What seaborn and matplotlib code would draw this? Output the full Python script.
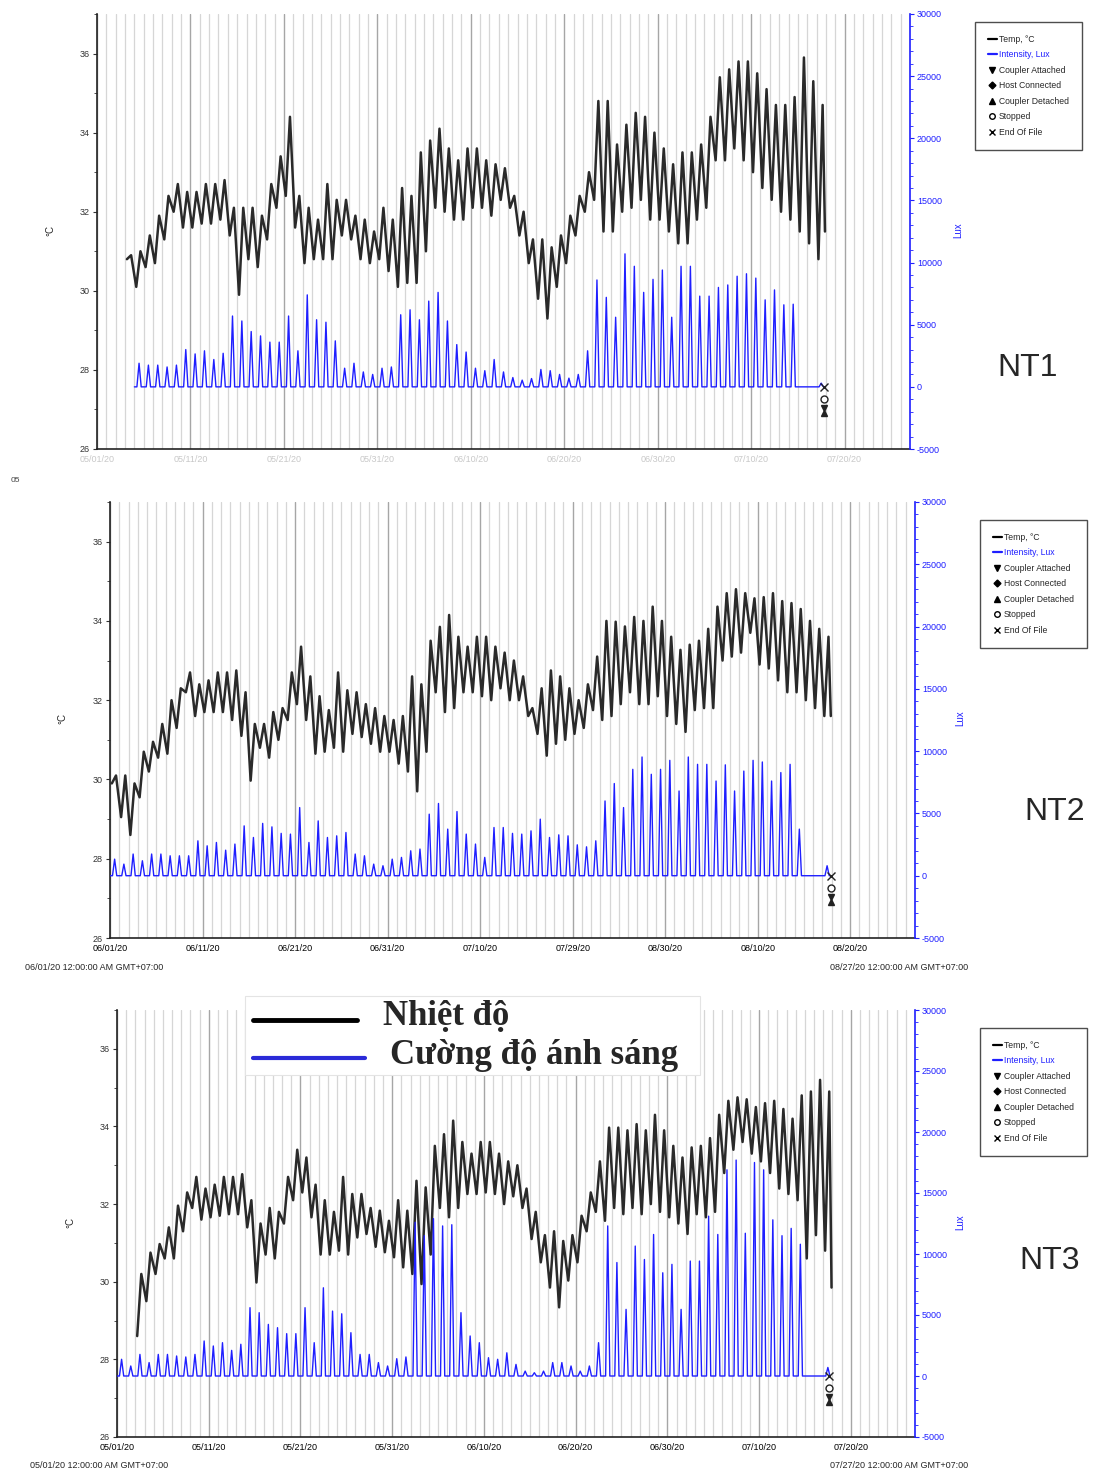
import numpy as np
import pandas as pd
import matplotlib
matplotlib.use("Agg")
import matplotlib.pyplot as plt
from matplotlib.lines import Line2D
from matplotlib.patches import Rectangle
import seaborn as sns

W, H = 1094, 1472

# ---------------------------------------------------------------------
# Data (one value per day)
# tmax = afternoon peak, tmin = morning low (+ last reading at the end)
# lux  = daily light peak
# ---------------------------------------------------------------------
nt1_temp_start = 3
nt1_tmax = [30.9, 31.0, 31.4, 31.9, 32.4, 32.7, 32.5, 32.5, 32.7, 32.7,
            32.8, 32.1, 32.1, 32.1, 31.9, 32.7, 33.4, 34.4, 32.4, 32.1,
            31.8, 32.7, 32.3, 32.3, 31.9, 31.8, 31.5, 32.1, 31.8, 32.6,
            32.4, 33.5, 33.8, 34.1, 33.6, 33.3, 33.6, 33.6, 33.3, 33.2,
            33.1, 32.4, 32.0, 31.3, 31.3, 31.1, 31.4, 31.9, 32.4, 33.0,
            34.8, 34.8, 33.7, 34.2, 34.5, 34.4, 34.0, 33.6, 33.2, 33.5,
            33.5, 33.7, 34.4, 35.4, 35.6, 35.8, 35.8, 35.5, 35.1, 34.7,
            34.7, 34.9, 35.9, 35.3, 34.7]
nt1_tmin = [30.8, 30.1, 30.6, 30.7, 31.3, 32.0, 31.6, 31.6, 31.7, 31.7,
            31.8, 31.4, 29.9, 30.8, 30.6, 31.3, 32.1, 32.4, 31.6, 30.7,
            30.8, 30.8, 30.8, 31.4, 31.3, 30.8, 30.7, 30.8, 30.5, 30.1,
            30.2, 30.2, 31.0, 32.1, 32.0, 31.8, 31.8, 32.1, 32.1, 31.9,
            32.3, 32.1, 31.4, 30.7, 29.8, 29.3, 30.1, 30.7, 31.4, 32.0,
            32.3, 31.5, 31.5, 32.0, 32.1, 32.3, 31.8, 31.8, 31.5, 31.2,
            31.2, 31.8, 32.1, 33.3, 33.3, 33.6, 33.3, 33.0, 32.6, 32.3,
            32.0, 31.8, 31.5, 31.2, 30.8, 31.5]
nt1_lux_start = 4
nt1_lux = [1900, 1750, 1750, 1600, 1750, 3000, 2650, 2900, 2200, 2700,
           5700, 5300, 4450, 4100, 3600, 3600, 5700, 2900, 7400, 5400,
           5200, 3700, 1500, 1900, 1200, 1000, 1500, 1600, 5800, 6200,
           5400, 6900, 7600, 5300, 3400, 2800, 1500, 1300, 2200, 1200,
           750, 540, 670, 1400, 1300, 1000, 700, 1000, 2900, 8600,
           7200, 5600, 10700, 9700, 7600, 8650, 9400, 5600, 9700, 9700,
           7300, 7300, 8000, 8200, 8900, 9100, 8750, 7000, 7800, 6600,
           6650, 0, 0, 300]
nt1_end = 77.8

nt2_temp_start = 0
nt2_tmax = [30.1, 30.1, 29.9, 30.7, 30.95, 31.4, 32.0, 32.3, 32.7, 32.4,
            32.5, 32.7, 32.7, 32.75, 32.2, 31.4, 31.4, 31.7, 31.8, 32.7,
            33.35, 32.6, 32.1, 31.75, 32.7, 32.25, 32.2, 31.9, 31.8, 31.6,
            31.5, 31.6, 32.6, 32.4, 33.5, 33.85, 34.15, 33.6, 33.35, 33.6,
            33.6, 33.35, 33.2, 33.0, 32.6, 31.8, 32.3, 32.75, 32.6, 32.3,
            32.0, 32.4, 33.1, 34.0, 33.98, 33.86, 34.1, 34.0, 34.36, 34.0,
            33.6, 33.27, 33.4, 33.5, 33.8, 34.36, 34.7, 34.8, 34.7, 34.57,
            34.6, 34.7, 34.5, 34.45, 34.3, 34.0, 33.8, 33.6]
nt2_tmin = [29.9, 29.05, 28.6, 29.55, 30.2, 30.55, 30.65, 31.3, 32.2, 31.6,
            31.7, 31.7, 31.7, 31.5, 31.1, 29.97, 30.8, 30.55, 31.0, 31.5,
            31.9, 31.5, 30.65, 30.7, 30.8, 30.7, 31.15, 31.07, 30.9, 30.7,
            30.7, 30.4, 30.2, 29.7, 30.7, 32.2, 31.7, 31.8, 32.2, 32.2,
            32.1, 32.0, 32.3, 32.0, 32.0, 31.6, 31.15, 30.6, 30.9, 31.0,
            31.15, 31.3, 31.75, 31.5, 31.6, 31.9, 32.2, 31.9, 31.9, 32.1,
            31.6, 31.4, 31.2, 31.75, 31.8, 31.8, 33.0, 33.1, 33.2, 33.7,
            32.9, 32.8, 32.5, 32.2, 32.2, 32.0, 31.8, 31.6, 31.6]
nt2_lux_start = 0
nt2_lux = [1330, 930, 1740, 1200, 1740, 1740, 1600, 1600, 1600, 2800,
           2400, 2670, 2050, 2540, 4000, 3070, 4200, 3920, 3400, 3340,
           5470, 2670, 4400, 3070, 3200, 3470, 1740, 1600, 930, 800,
           1330, 1470, 2000, 2140, 4940, 5800, 3740, 5150, 3340, 2540,
           1470, 3870, 3870, 3400, 3340, 3600, 4540, 3070, 3280, 3200,
           2480, 2320, 2800, 6000, 7400, 5470, 8540, 9530, 8140, 8540,
           9260, 6800, 9530, 8940, 8940, 7600, 8900, 6800, 8400, 9260,
           9130, 7600, 8280, 8940, 3740, 0, 0, 800]
nt2_end = 77.9

nt3_temp_start = 2
nt3_tmax = [30.2, 30.75, 30.97, 31.4, 31.96, 32.3, 32.7, 32.4, 32.5, 32.7,
            32.7, 32.77, 32.1, 31.5, 31.9, 31.8, 32.7, 33.4, 33.2, 32.5,
            32.1, 31.8, 32.7, 32.26, 32.26, 31.9, 31.83, 31.57, 32.1, 31.83,
            32.6, 32.43, 33.5, 33.8, 34.15, 33.6, 33.3, 33.6, 33.6, 33.3,
            33.1, 33.0, 32.4, 31.8, 31.2, 31.3, 31.05, 31.2, 31.7, 32.3,
            33.1, 33.97, 33.97, 33.9, 34.06, 33.9, 34.3, 33.9, 33.5, 33.2,
            33.46, 33.5, 33.7, 34.3, 34.66, 34.75, 34.7, 34.5, 34.6, 34.66,
            34.45, 34.2, 34.8, 34.9, 35.2, 34.9]
nt3_tmin = [28.6, 29.5, 30.2, 30.6, 30.6, 31.3, 31.9, 31.6, 31.66, 31.7,
            31.74, 31.74, 31.4, 29.98, 30.7, 30.6, 31.5, 32.1, 32.3, 31.66,
            30.7, 30.7, 30.8, 30.7, 31.14, 31.23, 30.9, 30.76, 30.63, 30.37,
            30.2, 29.94, 30.7, 31.9, 31.66, 31.9, 32.26, 32.26, 32.3, 32.26,
            32.0, 32.2, 31.9, 31.1, 30.5, 29.85, 29.34, 30.03, 30.5, 31.3,
            31.8, 31.57, 31.9, 31.74, 31.9, 31.74, 32.0, 31.8, 31.66, 31.5,
            31.23, 31.74, 31.66, 31.8, 32.8, 33.4, 33.6, 33.3, 33.1, 32.8,
            32.4, 32.26, 32.1, 30.6, 31.2, 30.8, 29.85]
nt3_lux_start = 0
nt3_lux = [1370, 820, 1770, 1100, 1770, 1770, 1640, 1560, 1770, 2870,
           2460, 2730, 2100, 2600, 5600, 5190, 4230, 3960, 3470, 3470,
           5600, 2730, 7230, 5320, 5100, 3550, 1770, 1770, 1100, 820,
           1420, 1560, 12600, 11500, 12900, 12300, 12400, 5190, 3280, 2730,
           1500, 1370, 1900, 950, 400, 270, 400, 1100, 1100, 820,
           400, 820, 2730, 12300, 9300, 5460, 10650, 9550, 11600, 8460,
           9150, 5460, 9420, 9420, 13100, 11600, 16900, 17700, 11700, 17500,
           16900, 12800, 11500, 12100, 10800, 0, 0, 700]
nt3_end = 77.6

p1_xlabels = ["05/01/20", "05/11/20", "05/21/20", "05/31/20", "06/10/20",
              "06/20/20", "06/30/20", "07/10/20", "07/20/20"]
p2_xlabels = ["06/01/20", "06/11/20", "06/21/20", "06/31/20", "07/10/20",
              "07/29/20", "08/30/20", "08/10/20", "08/20/20"]
p3_xlabels = ["05/01/20", "05/11/20", "05/21/20", "05/31/20", "06/10/20",
              "06/20/20", "06/30/20", "07/10/20", "07/20/20"]
p2_range = ["06/01/20 12:00:00 AM GMT+07:00", "08/27/20 12:00:00 AM GMT+07:00"]
p3_range = ["05/01/20 12:00:00 AM GMT+07:00", "07/27/20 12:00:00 AM GMT+07:00"]

legend_labels = ["Temp, °C", "Intensity, Lux", "Coupler Attached", "Host Connected",
                 "Coupler Detached", "Stopped", "End Of File"]


# ---------------------------------------------------------------------
# helpers
# ---------------------------------------------------------------------
def day_cycles(start, highs, lows):
    days, vals = [], []
    for i, hi in enumerate(highs):
        days += [start + i + 0.2, start + i + 0.65]
        vals += [lows[i], hi]
    days.append(start + len(highs) - 1 + 0.9)
    vals.append(lows[-1])
    return pd.DataFrame({"day": days, "temp": vals})


def light_cycles(start, peaks, end):
    days, vals = [start], [0]
    for i, p in enumerate(peaks):
        days += [start + i + 0.27, start + i + 0.5, start + i + 0.73]
        vals += [0, p, 0]
    days.append(end)
    vals.append(0)
    return pd.DataFrame({"day": days, "lux": vals})


def px_rect(left, top, right, bottom):
    return [left / W, 1 - bottom / H, (right - left) / W, (bottom - top) / H]


def fx(x):
    return x / W


def fy(y):
    return 1 - y / H


BLUE = "#1f1fff"

sns.set_style("white")
plt.rcParams["font.family"] = ["Liberation Sans", "DejaVu Sans"]

fig = plt.figure(figsize=(W / 100, H / 100), dpi=100)


def draw_panel(rect, temp_df, lux_df, end_day, xlabels, label_color="black"):
    ax = fig.add_axes(rect)
    ax.set_xlim(0, 87)
    ax.set_ylim(26, 37)
    ax.set_xticks(np.arange(0, 81, 10))
    ax.set_xticks(np.arange(0, 88, 1), minor=True)
    ax.grid(True, axis="x", which="minor", color="#d6d6d6", lw=0.9)
    ax.grid(True, axis="x", which="major", color="#a6a6a6", lw=1.0)
    ax.set_axisbelow(True)
    sns.lineplot(data=temp_df, x="day", y="temp", ax=ax, color="#2a2a2a",
                 lw=1.8, estimator=None, sort=False,
                 solid_joinstyle="round")
    ax.set_xlabel("")
    ax.set_ylabel("")
    ax.set_yticks(np.arange(26, 37, 2))
    ax.set_yticks(np.arange(26, 38, 1), minor=True)
    ax.set_xticklabels(xlabels, fontsize=6.5, color=label_color)
    ax.tick_params(axis="y", which="major", labelsize=6.5, length=3, width=0.8,
                   colors="#333333", pad=2)
    ax.tick_params(axis="y", which="minor", length=2, width=0.6, colors="#333333")
    ax.tick_params(axis="x", which="major", length=4, width=0.8, direction="inout",
                   pad=2, colors="#333333")
    ax.tick_params(axis="x", which="minor", length=3, width=0.6, direction="inout",
                   colors="#333333")
    ax.tick_params(axis="x", labelcolor=label_color)
    for s in ["top", "right"]:
        ax.spines[s].set_visible(False)
    for s in ["left", "bottom"]:
        ax.spines[s].set_color("#222222")
        ax.spines[s].set_linewidth(1.2)

    ax2 = ax.twinx()
    ax2.set_xlim(0, 87)
    ax2.set_ylim(-5000, 30000)
    sns.lineplot(data=lux_df, x="day", y="lux", ax=ax2, color=BLUE,
                 lw=1.0, estimator=None, sort=False)
    ax2.set_ylabel("")
    ax2.set_yticks(np.arange(-5000, 30001, 5000))
    ax2.set_yticks(np.arange(-5000, 30001, 1000), minor=True)
    ax2.set_yticklabels([f"{v}" for v in range(-5000, 30001, 5000)])
    ax2.tick_params(axis="y", which="major", labelsize=6.5, length=3, width=0.8,
                    colors=BLUE, pad=2)
    ax2.tick_params(axis="y", which="minor", length=2, width=0.6, colors=BLUE)
    for s in ["top", "left", "bottom"]:
        ax2.spines[s].set_visible(False)
    ax2.spines["right"].set_color(BLUE)
    ax2.spines["right"].set_linewidth(1.2)

    # logger event markers at the end of the file
    ax2.plot([end_day], [0], marker="x", color="#222222", ms=6, mew=1.0)
    ax2.plot([end_day], [-1000], marker="o", mfc="white", mec="#222222", ms=5, mew=1.0)
    ax2.plot([end_day], [-1700], marker="v", color="#222222", ms=4)
    ax2.plot([end_day], [-2100], marker="^", color="#222222", ms=4)
    return ax, ax2


def logger_legend(x, y):
    handles = [
        Line2D([], [], color="black", lw=1.6),
        Line2D([], [], color=BLUE, lw=1.6),
        Line2D([], [], ls="none", marker="v", color="black", ms=4),
        Line2D([], [], ls="none", marker="D", color="black", ms=3.5),
        Line2D([], [], ls="none", marker="^", color="black", ms=4),
        Line2D([], [], ls="none", marker="o", mfc="white", mec="black", ms=4),
        Line2D([], [], ls="none", marker="x", color="black", ms=4.5),
    ]
    leg = fig.legend(handles, legend_labels, loc="upper left",
                     bbox_to_anchor=(fx(x), fy(y)), bbox_transform=fig.transFigure,
                     fontsize=6.2, frameon=True, fancybox=False, edgecolor="#222222",
                     borderpad=1.5, labelspacing=0.75, handlelength=1.0,
                     handletextpad=0.3, borderaxespad=0)
    leg.get_frame().set_linewidth(1.0)
    leg.get_texts()[1].set_color(BLUE)
    return leg


# ---------------------------------------------------------------------
# NT1
# ---------------------------------------------------------------------
draw_panel(px_rect(97, 14, 910, 449),
           day_cycles(nt1_temp_start, nt1_tmax, nt1_tmin),
           light_cycles(nt1_lux_start, nt1_lux, nt1_end),
           nt1_end, p1_xlabels, label_color="#c8c8c8")
logger_legend(975, 22)
fig.text(fx(50), fy(230), "°C", rotation=90, fontsize=7, ha="center", va="center")
fig.text(fx(958), fy(230), "Lux", rotation=90, fontsize=7, color=BLUE,
         ha="center", va="center")
fig.text(fx(1028), fy(368), "NT1", fontsize=23, ha="center", va="center")
fig.text(fx(15), fy(480), "05", fontsize=6, ha="center", va="center", color="#444444")

# ---------------------------------------------------------------------
# NT2
# ---------------------------------------------------------------------
draw_panel(px_rect(110, 502, 915, 938),
           day_cycles(nt2_temp_start, nt2_tmax, nt2_tmin),
           light_cycles(nt2_lux_start, nt2_lux, nt2_end),
           nt2_end, p2_xlabels)
logger_legend(980, 520)
fig.text(fx(62), fy(718), "°C", rotation=90, fontsize=7, ha="center", va="center")
fig.text(fx(960), fy(718), "Lux", rotation=90, fontsize=7, color=BLUE,
         ha="center", va="center")
fig.text(fx(1055), fy(812), "NT2", fontsize=23, ha="center", va="center")
fig.text(fx(25), fy(967), p2_range[0], fontsize=6.5, ha="left", va="center")
fig.text(fx(830), fy(967), p2_range[1], fontsize=6.5, ha="left", va="center")

# ---------------------------------------------------------------------
# NT3
# ---------------------------------------------------------------------
draw_panel(px_rect(117, 1010, 915, 1437),
           day_cycles(nt3_temp_start, nt3_tmax, nt3_tmin),
           light_cycles(nt3_lux_start, nt3_lux, nt3_end),
           nt3_end, p3_xlabels)
logger_legend(980, 1028)
fig.text(fx(70), fy(1222), "°C", rotation=90, fontsize=7, ha="center", va="center")
fig.text(fx(960), fy(1222), "Lux", rotation=90, fontsize=7, color=BLUE,
         ha="center", va="center")
fig.text(fx(1050), fy(1261), "NT3", fontsize=23, ha="center", va="center")
fig.text(fx(30), fy(1466), p3_range[0], fontsize=6.5, ha="left", va="center")
fig.text(fx(830), fy(1466), p3_range[1], fontsize=6.5, ha="left", va="center")

# Vietnamese overlay legend on NT3
fig.add_artist(Rectangle((fx(245), fy(1075)), fx(700) - fx(245), fy(996) - fy(1075),
                         transform=fig.transFigure, facecolor="white",
                         edgecolor="#e4e4e4", lw=0.8, zorder=10))
fig.add_artist(Line2D([fx(253), fx(357)], [fy(1020), fy(1020)],
                      transform=fig.transFigure, color="black", lw=3.5, zorder=11))
fig.add_artist(Line2D([fx(253), fx(365)], [fy(1058), fy(1058)],
                      transform=fig.transFigure, color="#2a2ad8", lw=3.0, zorder=11))
vn_font = ["Liberation Serif", "DejaVu Serif"]
fig.text(fx(383), fy(1017), "Nhiệt độ", fontsize=25, fontweight="bold",
         family=vn_font, ha="left", va="center", zorder=12)
fig.text(fx(390), fy(1056), "Cường độ ánh sáng", fontsize=25, fontweight="bold",
         family=vn_font, ha="left", va="center", zorder=12)

fig.savefig("out.png", dpi=100)
